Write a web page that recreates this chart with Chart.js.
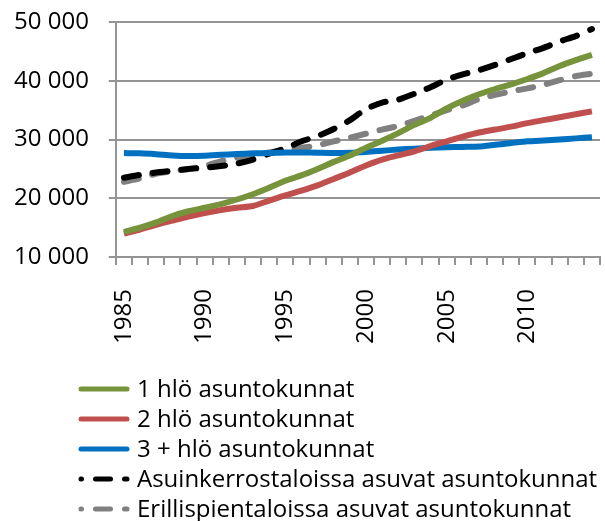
<!DOCTYPE html>
<html>
<head>
<meta charset="utf-8">
<script src="https://cdn.jsdelivr.net/npm/chart.js@4/dist/chart.umd.min.js"></script>
<style>
  body { margin: 0; background: #fff; }
  #wrap { width: 605px; height: 521px; position: relative; }
</style>
</head>
<body>
<div id="wrap"><canvas id="chart"></canvas></div>
<script>
const years = [];
for (let y = 1985; y <= 2014; y++) years.push(String(y));

const seriesNames = [
  "1 hlö asuntokunnat",
  "2 hlö asuntokunnat",
  "3 + hlö asuntokunnat",
  "Asuinkerrostaloissa asuvat asuntokunnat",
  "Erillispientaloissa asuvat asuntokunnat",
];

const onePerson = [14300, 15000, 15900, 17000, 17800, 18400, 19000, 19800, 20700, 21800,
  23000, 23900, 25000, 26200, 27300, 28600, 29800, 31100, 32500, 33700,
  35300, 36600, 37700, 38600, 39400, 40300, 41300, 42500, 43500, 44400];
const twoPerson = [14000, 14700, 15500, 16200, 16900, 17500, 18000, 18400, 18700, 19600,
  20500, 21300, 22200, 23300, 24400, 25600, 26600, 27300, 28000, 28900,
  29700, 30500, 31200, 31700, 32200, 32800, 33300, 33800, 34300, 34800];
const threePlus = [27700, 27650, 27500, 27300, 27200, 27250, 27400, 27550, 27650, 27700,
  27800, 27800, 27750, 27700, 27750, 27900, 28100, 28300, 28450, 28600,
  28700, 28750, 28800, 29100, 29400, 29700, 29850, 30000, 30200, 30400];
const apartmentBlocks = [23500, 24000, 24400, 24700, 25000, 25200, 25500, 25900, 26600, 27600,
  28500, 29700, 30600, 31800, 33300, 35200, 36300, 36800, 37800, 38900,
  40200, 41100, 41800, 42700, 43700, 44700, 45600, 46700, 47600, 48800];
const detachedHouses = [22800, 23400, 24200, 24600, 25000, 25500, 26300, 26900, 27400, 27800,
  28200, 28600, 29000, 29700, 30300, 31000, 31700, 32300, 33200, 34100,
  35000, 35800, 36900, 37600, 38200, 38700, 39300, 40100, 40800, 41200];

const yTicks = [10000, 20000, 30000, 40000, 50000];

const FONT = "'Open Sans', sans-serif";
const GRID = "#949494";
const DASH = [15, 14];

function spaced(v) {
  return String(v).replace(/\B(?=(\d{3})+(?!\d))/g, " ");
}

// legend drawn by hand so each item gets its own row, starting left of the plot
const lineLegend = {
  id: "lineLegend",
  afterDraw(chart) {
    const ctx = chart.ctx;
    ctx.save();
    ctx.font = "24px " + FONT;
    ctx.fillStyle = "#000";
    ctx.textBaseline = "middle";
    chart.data.datasets.forEach((ds, i) => {
      const y = 389 + i * 30;
      ctx.beginPath();
      ctx.strokeStyle = ds.borderColor;
      ctx.lineWidth = 5;
      ctx.lineCap = "round";
      ctx.setLineDash(ds.borderDash || []);
      ctx.lineDashOffset = ds.borderDash ? 14.5 : 0;
      ctx.moveTo(81, y);
      ctx.lineTo(127, y);
      ctx.stroke();
      ctx.setLineDash([]);
      ctx.fillText(ds.label, 137, y + 1);
    });
    ctx.restore();
  },
};

Chart.defaults.font.family = FONT;
Chart.defaults.color = "#000";

function lineSet(label, data, color, dashed) {
  return {
    label: label,
    data: data,
    borderColor: color,
    backgroundColor: color,
    borderWidth: 6,
    borderDash: dashed ? DASH : undefined,
    borderCapStyle: dashed ? "round" : "butt",
    borderJoinStyle: "round",
    pointRadius: 0,
    tension: 0.2,
    fill: false,
  };
}

const ctx = document.getElementById("chart").getContext("2d");
const chart = new Chart(ctx, {
  type: "line",
  data: {
    labels: years,
    datasets: [
      lineSet(seriesNames[0], onePerson, "#77933C", false),
      lineSet(seriesNames[1], twoPerson, "#C0504D", false),
      lineSet(seriesNames[2], threePlus, "#0070C0", false),
      lineSet(seriesNames[3], apartmentBlocks, "#000000", true),
      lineSet(seriesNames[4], detachedHouses, "#808080", true),
    ],
  },
  options: {
    responsive: true,
    maintainAspectRatio: false,
    animation: false,
    layout: { padding: { left: -6, right: 5, top: 22, bottom: 153 } },
    plugins: {
      legend: { display: false },
      tooltip: { enabled: false },
    },
    scales: {
      x: {
        offset: true,
        afterFit: (scale) => {
          scale.paddingLeft = 0;
          scale.paddingRight = 0;
        },
        grid: {
          offset: true,
          drawOnChartArea: false,
          drawTicks: true,
          tickLength: 8,
          color: GRID,
          lineWidth: 2,
        },
        border: { color: GRID, width: 2 },
        ticks: {
          autoSkip: false,
          minRotation: 90,
          maxRotation: 90,
          padding: 24,
          font: { size: 24 },
          callback: function (value, index) {
            const y = Number(years[index]);
            return y % 5 === 0 ? years[index] : "";
          },
        },
      },
      y: {
        min: 10000,
        max: 50000,
        afterBuildTicks: (axis) => {
          axis.ticks = yTicks.map((v) => ({ value: v }));
        },
        afterFit: (scale) => {
          scale.paddingTop = 0;
          scale.paddingBottom = 0;
        },
        grid: { color: GRID, lineWidth: 2, tickLength: 7 },
        border: { color: GRID, width: 2 },
        ticks: {
          padding: 20,
          font: { size: 24 },
          callback: (v) => spaced(v),
        },
      },
    },
  },
  plugins: [lineLegend],
});
</script>
</body>
</html>
